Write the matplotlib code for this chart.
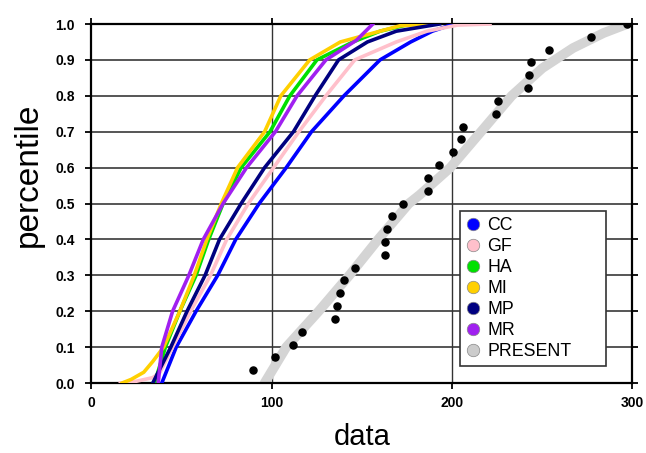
import numpy as np
import matplotlib
matplotlib.use("Agg")
import matplotlib.pyplot as plt
from matplotlib.lines import Line2D

plt.rcParams['font.family'] = ['Liberation Sans', 'DejaVu Sans']

# percentile curves (data value at each percentile)
cc_val = [39, 43, 47, 58, 70, 80, 93, 108, 122, 140, 160, 177, 189, 201]
cc_pct = [0.0, 0.05, 0.1, 0.2, 0.3, 0.4, 0.5, 0.6, 0.7, 0.8, 0.9, 0.95, 0.98, 1.0]

gf_val = [16, 25, 34, 38, 45, 55, 66, 75, 87, 101, 115, 130, 146, 169, 186, 203, 221]
gf_pct = [0.0, 0.005, 0.015, 0.03, 0.1, 0.2, 0.3, 0.4, 0.5, 0.6, 0.7, 0.8, 0.9, 0.95, 0.98, 0.997, 1.0]

ha_val = [35, 38, 41, 49, 58, 65, 73, 83, 99, 110, 125, 145, 160, 177]
ha_pct = [0.0, 0.05, 0.1, 0.2, 0.3, 0.4, 0.5, 0.6, 0.7, 0.8, 0.9, 0.95, 0.98, 1.0]

mi_val = [17, 22, 29, 34, 40, 49, 57, 64, 72, 81, 96, 105, 121, 138, 160, 171, 188]
mi_pct = [0.0, 0.01, 0.03, 0.06, 0.1, 0.2, 0.3, 0.4, 0.5, 0.6, 0.7, 0.8, 0.9, 0.95, 0.98, 0.995, 1.0]

mp_val = [34, 39, 44, 53, 63, 71, 83, 96, 112, 124, 137, 153, 169, 193]
mp_pct = [0.0, 0.05, 0.1, 0.2, 0.3, 0.4, 0.5, 0.6, 0.7, 0.8, 0.9, 0.95, 0.98, 1.0]

mr_val = [37, 38, 39, 45, 54, 62, 73, 86, 102, 114, 130, 147, 156]
mr_pct = [0.0, 0.05, 0.1, 0.2, 0.3, 0.4, 0.5, 0.6, 0.7, 0.8, 0.9, 0.955, 1.0]

# PRESENT band
present_val = [96, 108, 126, 143, 159, 176, 182, 199, 216, 233, 250, 267, 284, 297]
present_pct = [0.0, 0.1, 0.2, 0.3, 0.4, 0.5, 0.524, 0.6, 0.7, 0.8, 0.877, 0.933, 0.975, 1.0]

# black sample points (28 of them, percentile i/28)
sample_val = [89.4, 101.8, 111.6, 116.9, 135.1, 136.0, 137.8, 140.0, 146.1, 162.8,
              162.8, 163.7, 166.8, 172.9, 186.8, 186.8, 192.9, 200.7, 204.8, 205.9,
              224.2, 225.6, 241.9, 242.8, 243.8, 253.9, 276.9, 296.8]

groups = ['CC', 'GF', 'HA', 'MI', 'MP', 'MR']
colors = ['#0000ff', '#ffc0cb', '#00e000', '#ffd000', '#000080', '#a020f0']
curve_vals = [cc_val, gf_val, ha_val, mi_val, mp_val, mr_val]
curve_pcts = [cc_pct, gf_pct, ha_pct, mi_pct, mp_pct, mr_pct]

fig = plt.figure(figsize=(6.46, 4.53), dpi=100)
ax = fig.add_axes([0.1416, 0.1545, 0.8375, 0.7925])

# grid
for yy in np.arange(0.1, 1.0, 0.1):
    ax.axhline(yy, color='#555555', lw=1.4, zorder=1)
for xx in [100, 200]:
    ax.axvline(xx, color='#333333', lw=1.0, zorder=1)

# PRESENT gray band + sample dots
ax.plot(present_val, present_pct, color='#d4d4d4', lw=7, solid_capstyle='round', zorder=2)
sample_pct = np.arange(1, len(sample_val) + 1) / len(sample_val)
ax.scatter(sample_val, sample_pct, s=26, color='black', zorder=4)

# group curves
for name, c, xv, pv in zip(groups, colors, curve_vals, curve_pcts):
    ax.plot(xv, pv, color=c, lw=2.6, zorder=3)

ax.set_xlim(0, 300)
ax.set_ylim(0, 1.0)
ax.set_xticks([0, 100, 200, 300])
ax.set_yticks(np.arange(0, 1.01, 0.1))
ax.set_yticklabels(['%.1f' % v for v in np.arange(0, 1.01, 0.1)])
ax.tick_params(direction='out', length=4, width=1.3, top=True, right=True,
               labelsize=10)
ax.tick_params(axis='y', pad=8)
ax.tick_params(axis='x', pad=5)
for lab in ax.get_xticklabels() + ax.get_yticklabels():
    lab.set_fontweight('bold')
for s in ax.spines.values():
    s.set_linewidth(1.6)

ax.set_xlabel('data', fontsize=21, labelpad=10)
ax.set_ylabel('percentile', fontsize=24)
ax.yaxis.set_label_coords(-0.088, 0.58)

# legend with circle markers
handles = []
for name, c in zip(groups + ['PRESENT'], colors + ['#cccccc']):
    handles.append(Line2D([], [], ls='none', marker='o', markersize=9,
                          markerfacecolor=c, markeredgecolor='#888888',
                          markeredgewidth=0.5, label=name))
leg = ax.legend(handles=handles, loc='lower left',
                bbox_to_anchor=(0.681, 0.047, 0.27, 0.4), mode='expand',
                borderaxespad=0, fontsize=12.8, handlelength=0.8, handletextpad=0.4,
                labelspacing=0.22, borderpad=0.35, fancybox=False, framealpha=1,
                edgecolor='#333333')
leg.get_frame().set_linewidth(1.2)
leg.set_zorder(5)

fig.savefig('out.png', dpi=100)
